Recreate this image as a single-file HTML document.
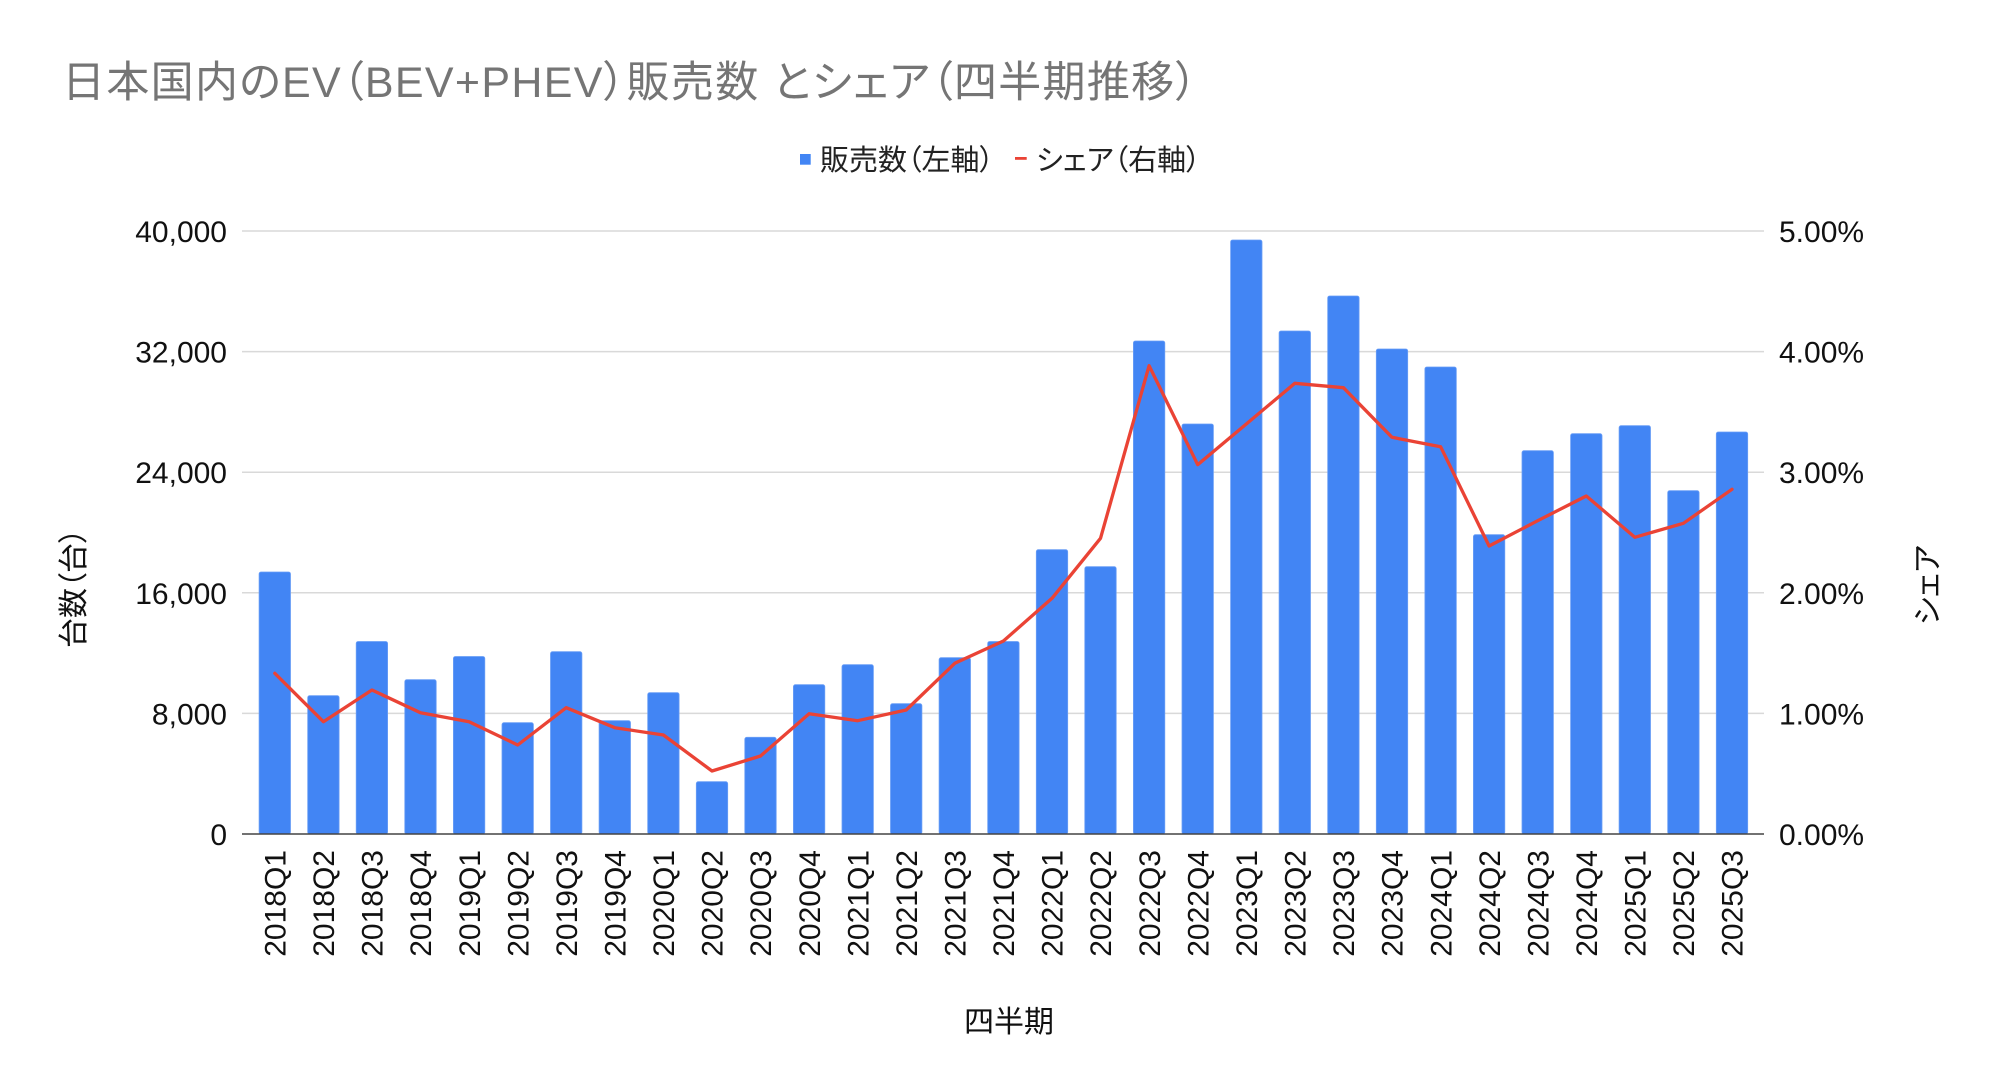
<!DOCTYPE html>
<html><head><meta charset="utf-8"><style>
html,body{margin:0;padding:0;background:#fff;}
svg{display:block;}
text{font-family:"Liberation Sans","Noto Sans CJK JP",sans-serif;font-feature-settings:"palt";}
</style></head><body>
<svg width="2000" height="1092" viewBox="0 0 2000 1092" xmlns="http://www.w3.org/2000/svg">
<rect width="2000" height="1092" fill="#fff"/>
<text x="62" y="97" font-size="43" fill="#757575" textLength="1135" lengthAdjust="spacing">日本国内のEV（BEV+PHEV）販売数 とシェア（四半期推移）</text>
<rect x="800" y="154" width="10.7" height="10.7" fill="#4285F4"/>
<text x="820" y="170" font-size="29" fill="#222">販売数（左軸）</text>
<rect x="1015" y="157" width="11.7" height="2.8" fill="#EA4335"/>
<text x="1036" y="170" font-size="29" fill="#222">シェア（右軸）</text>
<g stroke="#d9d9d9" stroke-width="1.5">
<line x1="242" y1="231" x2="1764" y2="231"/>
<line x1="242" y1="351.6" x2="1764" y2="351.6"/>
<line x1="242" y1="472.2" x2="1764" y2="472.2"/>
<line x1="242" y1="592.8" x2="1764" y2="592.8"/>
<line x1="242" y1="713.4" x2="1764" y2="713.4"/>
</g>
<g font-size="30" fill="#111" text-anchor="end">
<text x="227" y="242">40,000</text>
<text x="227" y="362.6">32,000</text>
<text x="227" y="483.2">24,000</text>
<text x="227" y="603.8">16,000</text>
<text x="227" y="724.4">8,000</text>
<text x="227" y="845">0</text>
</g>
<g font-size="30" fill="#111">
<text x="1779" y="242">5.00%</text>
<text x="1779" y="362.6">4.00%</text>
<text x="1779" y="483.2">3.00%</text>
<text x="1779" y="603.8">2.00%</text>
<text x="1779" y="724.4">1.00%</text>
<text x="1779" y="845">0.00%</text>
</g>
<g fill="#4285F4" stroke="#6a9ef6" stroke-width="0.8">
<rect x="259.1" y="572" width="31.4" height="262" rx="2"/>
<rect x="307.7" y="695.7" width="31.4" height="138.3" rx="2"/>
<rect x="356.2" y="641.5" width="31.4" height="192.5" rx="2"/>
<rect x="404.8" y="679.7" width="31.4" height="154.3" rx="2"/>
<rect x="453.4" y="656.5" width="31.4" height="177.5" rx="2"/>
<rect x="502" y="722.7" width="31.4" height="111.3" rx="2"/>
<rect x="550.5" y="651.7" width="31.4" height="182.3" rx="2"/>
<rect x="599.1" y="720.7" width="31.4" height="113.3" rx="2"/>
<rect x="647.7" y="692.7" width="31.4" height="141.3" rx="2"/>
<rect x="696.3" y="781.7" width="31.4" height="52.3" rx="2"/>
<rect x="744.8" y="737.3" width="31.4" height="96.7" rx="2"/>
<rect x="793.4" y="684.7" width="31.4" height="149.3" rx="2"/>
<rect x="842" y="664.7" width="31.4" height="169.3" rx="2"/>
<rect x="890.5" y="703.7" width="31.4" height="130.3" rx="2"/>
<rect x="939.1" y="657.7" width="31.4" height="176.3" rx="2"/>
<rect x="987.7" y="641.5" width="31.4" height="192.5" rx="2"/>
<rect x="1036.3" y="549.7" width="31.4" height="284.3" rx="2"/>
<rect x="1084.8" y="566.7" width="31.4" height="267.3" rx="2"/>
<rect x="1133.4" y="341" width="31.4" height="493" rx="2"/>
<rect x="1182" y="424" width="31.4" height="410" rx="2"/>
<rect x="1230.6" y="240" width="31.4" height="594" rx="2"/>
<rect x="1279.1" y="331" width="31.4" height="503" rx="2"/>
<rect x="1327.7" y="296" width="31.4" height="538" rx="2"/>
<rect x="1376.3" y="349" width="31.4" height="485" rx="2"/>
<rect x="1424.9" y="367" width="31.4" height="467" rx="2"/>
<rect x="1473.4" y="534.7" width="31.4" height="299.3" rx="2"/>
<rect x="1522" y="450.7" width="31.4" height="383.3" rx="2"/>
<rect x="1570.6" y="433.7" width="31.4" height="400.3" rx="2"/>
<rect x="1619.1" y="425.7" width="31.4" height="408.3" rx="2"/>
<rect x="1667.7" y="490.7" width="31.4" height="343.3" rx="2"/>
<rect x="1716.3" y="432" width="31.4" height="402" rx="2"/>
</g>
<line x1="242" y1="834" x2="1764" y2="834" stroke="#444" stroke-width="1.6"/>
<polyline fill="none" stroke="#EA4335" stroke-width="3.3" stroke-linejoin="round" stroke-linecap="round" points="274.8,673.3 323.4,721.7 371.9,690 420.5,712.7 469.1,721.7 517.7,745 566.2,707.7 614.8,727.7 663.4,735 712,771 760.5,756 809.1,713.7 857.7,720.7 906.2,710 954.8,663.3 1003.4,641 1052,598.3 1100.5,538.3 1149.1,365.7 1197.7,464.7 1246.3,424 1294.8,383.3 1343.4,387.7 1392,437.3 1440.6,446.7 1489.1,546 1537.7,520.7 1586.3,496 1634.8,537.3 1683.4,523.3 1732,489.3"/>
<g font-size="30" fill="#111" text-anchor="end">
<text transform="translate(285.5,850) rotate(-90)">2018Q1</text>
<text transform="translate(334.1,850) rotate(-90)">2018Q2</text>
<text transform="translate(382.6,850) rotate(-90)">2018Q3</text>
<text transform="translate(431.2,850) rotate(-90)">2018Q4</text>
<text transform="translate(479.8,850) rotate(-90)">2019Q1</text>
<text transform="translate(528.4,850) rotate(-90)">2019Q2</text>
<text transform="translate(576.9,850) rotate(-90)">2019Q3</text>
<text transform="translate(625.5,850) rotate(-90)">2019Q4</text>
<text transform="translate(674.1,850) rotate(-90)">2020Q1</text>
<text transform="translate(722.7,850) rotate(-90)">2020Q2</text>
<text transform="translate(771.2,850) rotate(-90)">2020Q3</text>
<text transform="translate(819.8,850) rotate(-90)">2020Q4</text>
<text transform="translate(868.4,850) rotate(-90)">2021Q1</text>
<text transform="translate(916.9,850) rotate(-90)">2021Q2</text>
<text transform="translate(965.5,850) rotate(-90)">2021Q3</text>
<text transform="translate(1014.1,850) rotate(-90)">2021Q4</text>
<text transform="translate(1062.7,850) rotate(-90)">2022Q1</text>
<text transform="translate(1111.2,850) rotate(-90)">2022Q2</text>
<text transform="translate(1159.8,850) rotate(-90)">2022Q3</text>
<text transform="translate(1208.4,850) rotate(-90)">2022Q4</text>
<text transform="translate(1257,850) rotate(-90)">2023Q1</text>
<text transform="translate(1305.5,850) rotate(-90)">2023Q2</text>
<text transform="translate(1354.1,850) rotate(-90)">2023Q3</text>
<text transform="translate(1402.7,850) rotate(-90)">2023Q4</text>
<text transform="translate(1451.3,850) rotate(-90)">2024Q1</text>
<text transform="translate(1499.8,850) rotate(-90)">2024Q2</text>
<text transform="translate(1548.4,850) rotate(-90)">2024Q3</text>
<text transform="translate(1597,850) rotate(-90)">2024Q4</text>
<text transform="translate(1645.5,850) rotate(-90)">2025Q1</text>
<text transform="translate(1694.1,850) rotate(-90)">2025Q2</text>
<text transform="translate(1742.7,850) rotate(-90)">2025Q3</text>
</g>
<text x="1009" y="1032" font-size="30" fill="#111" text-anchor="middle">四半期</text>
<text transform="translate(84,588) rotate(-90)" font-size="30" fill="#111" text-anchor="middle">台数（台）</text>
<text transform="translate(1938,585) rotate(-90)" font-size="30" fill="#111" text-anchor="middle">シェア</text>
</svg>
</body></html>
